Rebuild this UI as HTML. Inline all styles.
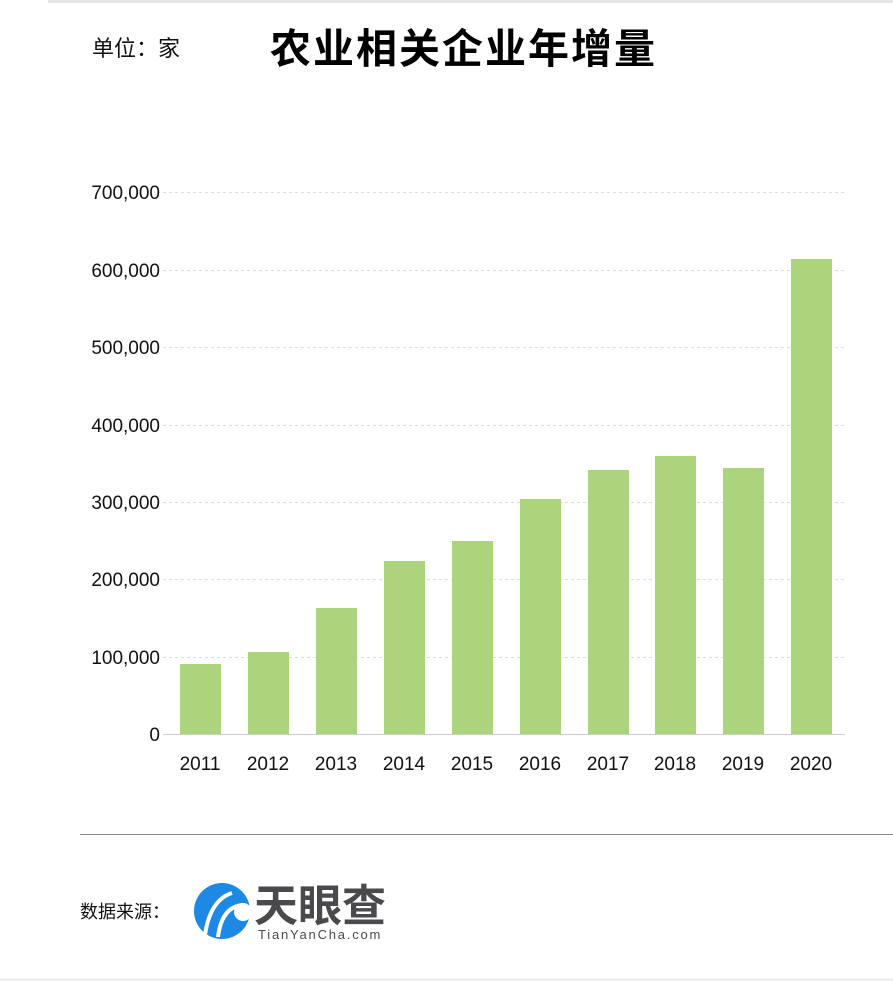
<!DOCTYPE html>
<html><head><meta charset="utf-8"><style>
body{margin:0;width:893px;height:981px;background:#fff;overflow:hidden;position:relative;font-family:"Liberation Sans","Noto Sans CJK SC",sans-serif}
.a{position:absolute}
</style></head><body>
<div class="a" style="left:48px;top:0;width:845px;height:3px;background:#e6e6e6"></div>
<div class="a" style="left:0;top:978px;width:893px;height:3px;background:#f2f2f2"></div>
<div class="a" style="left:92px;top:31px;font-size:22px;color:#111">单位：家</div>
<div class="a" style="left:270px;top:15px;font-size:41px;font-weight:bold;color:#000;letter-spacing:2px">农业相关企业年增量</div>
<svg class="a" style="left:0;top:0" width="893" height="981">
<g stroke="#ddd" stroke-dasharray="3,3" stroke-width="1">
<line x1="163" x2="845" y1="192.5" y2="192.5"/><line x1="163" x2="845" y1="270.5" y2="270.5"/><line x1="163" x2="845" y1="347.5" y2="347.5"/><line x1="163" x2="845" y1="425.5" y2="425.5"/><line x1="163" x2="845" y1="502.5" y2="502.5"/><line x1="163" x2="845" y1="579.5" y2="579.5"/><line x1="163" x2="845" y1="657.5" y2="657.5"/>
</g>
<g fill="#acd47d">
<rect x="180" y="664" width="41" height="70"/><rect x="248" y="652" width="41" height="82"/><rect x="316" y="608" width="41" height="126"/><rect x="384" y="561" width="41" height="173"/><rect x="452" y="541" width="41" height="193"/><rect x="520" y="499" width="41" height="235"/><rect x="588" y="470" width="41" height="264"/><rect x="655" y="456" width="41" height="278"/><rect x="723" y="468" width="41" height="266"/><rect x="791" y="259" width="41" height="475"/>
</g>
<line x1="163" x2="845" y1="734.5" y2="734.5" stroke="#ccc"/>
<g font-size="19" fill="#111" text-anchor="end" font-family="Liberation Sans,sans-serif">
<text x="160" y="199">700,000</text><text x="160" y="277">600,000</text><text x="160" y="354">500,000</text><text x="160" y="432">400,000</text><text x="160" y="509">300,000</text><text x="160" y="586">200,000</text><text x="160" y="664">100,000</text><text x="160" y="741">0</text>
</g>
<g font-size="19" fill="#111" text-anchor="middle" font-family="Liberation Sans,sans-serif">
<text x="200" y="770">2011</text><text x="268" y="770">2012</text><text x="336" y="770">2013</text><text x="404" y="770">2014</text><text x="472" y="770">2015</text><text x="540" y="770">2016</text><text x="608" y="770">2017</text><text x="675" y="770">2018</text><text x="743" y="770">2019</text><text x="811" y="770">2020</text>
</g>
<line x1="80" x2="893" y1="834.5" y2="834.5" stroke="#888"/>
<circle cx="222" cy="911" r="28" fill="#1e88e5"/>
<path d="M232 893 Q210 900 205 935" stroke="#fff" stroke-width="4" fill="none"/>
<path d="M245 905 Q222 905 218 937" stroke="#fff" stroke-width="4" fill="none"/>
<circle cx="243" cy="912" r="9" fill="#fff"/>
<text x="254" y="921" font-size="44" font-weight="bold" fill="#4a4a4e" font-family="Liberation Sans,Noto Sans CJK SC,sans-serif">天眼查</text>
<text x="258" y="939" font-size="13" fill="#4a4a4e" letter-spacing="1.8" font-family="Liberation Sans,sans-serif">TianYanCha.com</text>
</svg>
<div class="a" style="left:80px;top:898px;font-size:18px;color:#111">数据来源：</div>
</body></html>
